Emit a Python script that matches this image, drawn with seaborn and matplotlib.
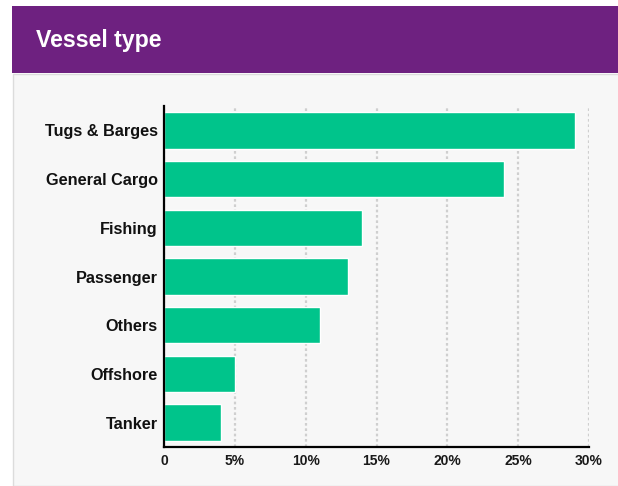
import matplotlib
matplotlib.use("Agg")
import matplotlib.pyplot as plt
from matplotlib.patches import Rectangle
from matplotlib.ticker import FuncFormatter, MultipleLocator
import seaborn as sns
import pandas as pd

# Share of incidents by vessel type (%)
vessel_types = ["Tugs & Barges", "General Cargo", "Fishing", "Passenger",
                "Others", "Offshore", "Tanker"]
shares = [29, 24, 14, 13, 11, 5, 4]

PURPLE = "#6e2180"
GREEN = "#00c48b"
PANEL = "#f7f7f7"

sns.set_theme(style="white")
plt.rcParams["font.family"] = ["Liberation Sans", "DejaVu Sans"]

df = pd.DataFrame({"type": vessel_types, "share": shares})

W, H = 618, 486
fig = plt.figure(figsize=(W / 100, H / 100), dpi=100, facecolor="white")

# Light grey panel behind the chart
fig.patches.append(Rectangle((13 / W, 0), (W - 12) / W, (H - 74) / H,
                             transform=fig.transFigure, facecolor=PANEL,
                             edgecolor="#dcdcdc", linewidth=1.0, zorder=-2))
# Purple header band
fig.patches.append(Rectangle((12 / W, 1 - 73 / H), (W - 12) / W, 67 / H,
                             transform=fig.transFigure, facecolor=PURPLE,
                             edgecolor="none", zorder=-1))
fig.text(36 / W, 1 - 41 / H, "Vessel type", color="white", fontsize=16.7,
         fontweight="bold", ha="left", va="center")

ax = fig.add_axes([164 / W, 1 - 447 / H, (589 - 164) / W, (447 - 106) / H])
ax.set_zorder(2)
ax.set_facecolor("none")

sns.barplot(data=df, x="share", y="type", orient="h", color=GREEN,
            width=0.75, saturation=1, ax=ax, zorder=3)

ax.set_xlim(0, 30)
ax.set_ylim(6.5, -0.5)
ax.xaxis.set_major_locator(MultipleLocator(5))
ax.xaxis.set_major_formatter(FuncFormatter(lambda v, _: "0" if v == 0 else f"{v:.0f}%"))
ax.set_xlabel("")
ax.set_ylabel("")

ax.grid(axis="x", color="#cfcfcf", linestyle=(0, (1.2, 1.2)), linewidth=1.6, zorder=0)
ax.grid(axis="y", visible=False)
ax.set_axisbelow(True)

for side in ("top", "right"):
    ax.spines[side].set_visible(False)
for side in ("left", "bottom"):
    ax.spines[side].set_color("black")
    ax.spines[side].set_linewidth(1.6)
    ax.spines[side].set_zorder(4)

ax.tick_params(axis="both", length=0)
ax.tick_params(axis="y", pad=4.5)
ax.tick_params(axis="x", pad=5)
for lbl in ax.get_yticklabels():
    lbl.set_fontsize(11.7)
    lbl.set_fontweight("bold")
    lbl.set_color("#111111")
for lbl in ax.get_xticklabels():
    lbl.set_fontsize(10)
    lbl.set_fontweight("bold")
    lbl.set_color("#1a1a1a")

fig.savefig("out.png", dpi=100, facecolor="white")
